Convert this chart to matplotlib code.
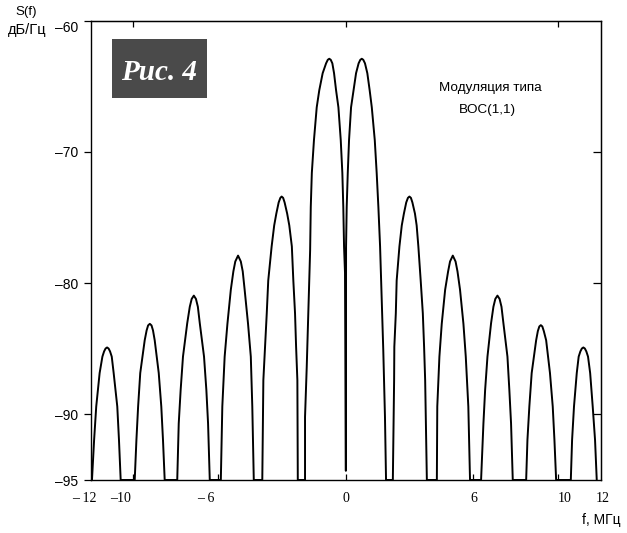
#!/usr/bin/env python3

import matplotlib
matplotlib.use('Agg')
import matplotlib.pyplot as plt
from matplotlib.patches import Rectangle

freq_mhz = [
    # lobe near -11
    -11.94, -11.84, -11.74, -11.58, -11.45, -11.37, -11.30, -11.23, -11.16, -11.09, -11.01, -10.92, -10.75, -10.67, -10.59,
    # lobe near -9
    -9.93, -9.85, -9.77, -9.67, -9.46, -9.37, -9.30, -9.22, -9.14, -9.07, -8.99, -8.80, -8.68, -8.60, -8.52,
    # lobe near -7
    -7.93, -7.86, -7.77, -7.66, -7.46, -7.34, -7.25, -7.15, -7.05, -6.96, -6.87, -6.67, -6.56, -6.48, -6.40,
    # lobe near -5
    -5.88, -5.81, -5.70, -5.57, -5.41, -5.29, -5.20, -5.07, -4.94, -4.85, -4.76, -4.60, -4.47, -4.40, -4.33,
    # lobe near -3
    -3.93, -3.88, -3.80, -3.72, -3.65, -3.49, -3.37, -3.27, -3.16, -3.08, -3.02, -2.95, -2.88, -2.76, -2.66,
    -2.54, -2.47, -2.39, -2.34, -2.28, -2.26,
    # main lobe, left
    -1.92, -1.92, -1.84, -1.68, -1.65, -1.60, -1.50, -1.37, -1.25, -1.09, -0.93, -0.85, -0.78, -0.71, -0.635,
    -0.555, -0.46, -0.35, -0.24, -0.165, -0.12, -0.085, -0.04, 0.0,
    # main lobe, right
    0.01, 0.04, 0.09, 0.15, 0.245, 0.36, 0.48, 0.60, 0.68, 0.75, 0.82, 0.90, 1.01, 1.12, 1.22, 1.36, 1.45,
    1.53, 1.61, 1.76, 1.84, 1.89,
    # lobe near 3
    2.21, 2.27, 2.28, 2.35, 2.39, 2.52, 2.63, 2.73, 2.84, 2.92, 2.99, 3.06, 3.13, 3.25, 3.33, 3.41, 3.52,
    3.62, 3.68, 3.73, 3.81,
    # lobe near 5
    4.28, 4.30, 4.40, 4.51, 4.67, 4.81, 4.90, 5.03, 5.16, 5.25, 5.37, 5.53, 5.64, 5.76, 5.84,
    # lobe near 7
    6.36, 6.47, 6.55, 6.66, 6.83, 6.94, 7.03, 7.13, 7.23, 7.32, 7.41, 7.60, 7.69, 7.77, 7.85,
    # lobe near 9
    8.48, 8.54, 8.63, 8.74, 8.95, 9.03, 9.10, 9.17, 9.24, 9.31, 9.42, 9.60, 9.73, 9.81, 9.89,
    # lobe near 11
    10.58, 10.64, 10.73, 10.86, 10.95, 11.03, 11.10, 11.17, 11.24, 11.31, 11.39, 11.49, 11.61, 11.72, 11.80,
]

psd_db = [
    -95.0, -91.95, -89.4, -86.85, -85.6, -85.2, -84.98, -84.9, -84.98, -85.2, -85.6, -86.85, -89.4, -91.95, -95.0,
    -95.0, -91.95, -89.4, -86.85, -84.35, -83.6, -83.22, -83.1, -83.22, -83.6, -84.35, -86.85, -89.4, -91.95, -95.0,
    -95.0, -90.7, -88.15, -85.6, -83.05, -81.8, -81.2, -80.95, -81.2, -81.8, -83.05, -85.6, -88.15, -90.7, -95.0,
    -95.0, -89.4, -85.6, -83.1, -80.5, -79.1, -78.35, -77.9, -78.35, -79.1, -80.5, -83.1, -85.6, -89.4, -95.0,
    -95.0, -87.4, -84.85, -82.3, -79.8, -77.2, -75.6, -74.7, -73.85, -73.5, -73.4, -73.5, -73.85, -74.7, -75.6,
    -77.2, -79.8, -82.3, -84.85, -87.4, -95.0,
    -95.0, -90.2, -86.4, -77.5, -74.2, -71.6, -69.1, -66.6, -65.3, -64.0, -63.25, -62.98, -62.9, -62.98, -63.25,
    -64.0, -65.3, -66.6, -69.1, -71.6, -74.2, -77.2, -79.2, -94.3,
    -77.2, -74.2, -71.6, -69.1, -66.6, -65.3, -64.0, -63.25, -62.98, -62.9, -62.98, -63.25, -64.0, -65.3, -66.6, -69.1, -71.6,
    -74.2, -77.2, -85.1, -90.2, -95.0,
    -95.0, -87.4, -84.85, -82.3, -79.8, -77.2, -75.6, -74.7, -73.85, -73.5, -73.4, -73.5, -73.85, -74.7, -75.6, -77.2, -79.8,
    -82.3, -84.85, -87.4, -95.0,
    -95.0, -89.4, -85.6, -83.1, -80.5, -79.1, -78.35, -77.9, -78.35, -79.1, -80.5, -83.1, -85.6, -89.4, -95.0,
    -95.0, -90.7, -88.15, -85.6, -83.05, -81.8, -81.2, -80.95, -81.2, -81.8, -83.05, -85.6, -88.15, -90.7, -95.0,
    -95.0, -91.95, -89.4, -86.85, -84.35, -83.65, -83.3, -83.2, -83.3, -83.65, -84.35, -86.85, -89.4, -91.95, -95.0,
    -95.0, -91.95, -89.4, -86.85, -85.6, -85.2, -84.98, -84.9, -84.98, -85.2, -85.6, -86.85, -89.4, -91.95, -95.0,
]

y_ticks = [-60, -70, -80, -90, -95]
y_tick_labels = ['\u201360', '\u201370', '\u201380', '\u201390', '\u201395']
x_tick_labels = ['\u2013 12', '\u201310', '\u2013 6', '0', '6', '10', '12']


def main():
    fig = plt.figure(figsize=(6.27, 5.33), dpi=100)
    ax = fig.add_axes([90.7 / 627, 53 / 533, 510.3 / 627, 459.3 / 533])

    ax.plot(freq_mhz, psd_db, color='black', linewidth=1.4)

    ax.set_xlim(-12, 12)
    ax.set_ylim(-95, -60)
    for sp in ax.spines.values():
        sp.set_linewidth(1.0)

    # y axis: labels on the left, ticks outside
    ax.set_yticks(y_ticks)
    ax.set_yticklabels(y_tick_labels, family='Liberation Sans', fontsize=10)
    ax.tick_params(axis='y', direction='out', length=5, width=0.9, pad=4)
    ax.get_yticklabels()[0].set_va('top')

    # x axis: inward ticks, labels placed where the original has them
    ax.set_xticks([-10, -6, 0, 6, 10])
    ax.set_xticklabels([])
    ax.tick_params(axis='x', direction='in', length=4, width=0.9)
    label_x = [-12.28, -10.62, -6.57, 0, 6.03, 10.3, 12.07]
    for xv, txt in zip(label_x, x_tick_labels):
        ax.text(xv, -0.041, txt, transform=ax.get_xaxis_transform(), ha='center', va='center',
                family='Liberation Serif', fontsize=10)

    top = ax.secondary_xaxis('top')
    top.set_xticks([-10, 0, 10])
    top.tick_params(direction='in', length=4, width=0.9, labeltop=False)

    right = ax.secondary_yaxis('right')
    right.set_yticks([-70, -80, -90])
    right.tick_params(direction='in', length=6, width=0.9, labelright=False)

    # axis captions
    fig.text(26 / 627, 1 - 12.5 / 533, 'S(f)', ha='center', va='center',
             family='Liberation Sans', fontsize=9.5)
    fig.text(27.5 / 627, 1 - 30 / 533, 'дБ/Гц', ha='center', va='center',
             family='Liberation Sans', fontsize=10.5)
    fig.text(601.5 / 627, 1 - 520 / 533, 'f, МГц', ha='center', va='center',
             family='Liberation Sans', fontsize=10)

    # annotation
    ax.text(6.8, -65.13, 'Модуляция типа', ha='center', va='center',
            family='Liberation Sans', fontsize=9.7)
    ax.text(6.64, -66.8, 'BOC(1,1)', ha='center', va='center',
            family='Liberation Sans', fontsize=9.7)

    # figure badge
    fig.patches.append(Rectangle((112 / 627, 1 - 98 / 533), 95 / 627, 59 / 533,
                                 transform=fig.transFigure, facecolor='#4a4a4a',
                                 edgecolor='none', zorder=5))
    fig.text(159.5 / 627, 1 - 80 / 533, 'Рис. 4', ha='center', va='baseline', color='white',
             family='Liberation Serif', fontweight='bold', fontstyle='italic', fontsize=21, zorder=6)

    fig.savefig('out.png', dpi=100)


if __name__ == "__main__":
    main()
